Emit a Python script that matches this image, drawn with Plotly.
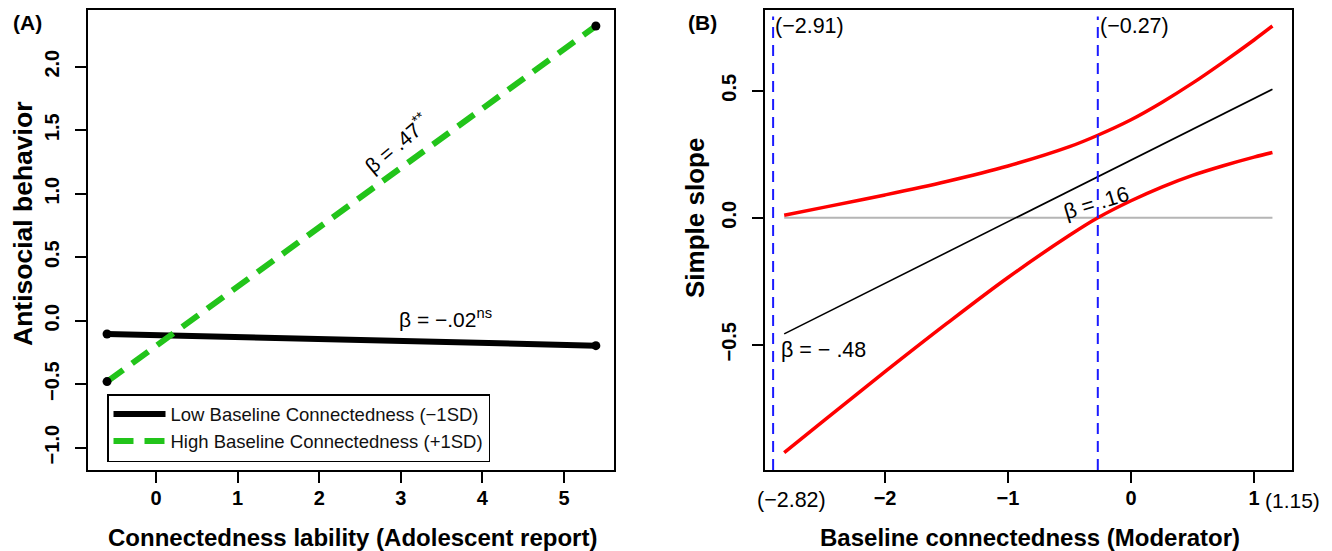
import plotly.graph_objects as go

# ---------------- data ----------------
# Panel A: simple slopes of antisocial behavior on connectedness lability
lability_x = [-0.60, 5.39]
low_conn_y = [-0.105, -0.197]
high_conn_y = [-0.48, 2.32]
low_name = "Low Baseline Connectedness (\u22121SD)"
high_name = "High Baseline Connectedness (+1SD)"

# Panel B: simple slope as function of moderator with confidence bands
mod_x = [-2.82, -2.5, -2.0, -1.5, -1.0, -0.5, -0.27, 0.0, 0.25, 0.5, 0.75, 1.0, 1.15]
ci_upper = [0.010, 0.041, 0.090, 0.143, 0.204, 0.280, 0.325, 0.386, 0.454, 0.530, 0.613, 0.700, 0.755]
ci_lower = [-0.925, -0.800, -0.606, -0.417, -0.235, -0.069, 0.000, 0.067, 0.121, 0.167, 0.205, 0.239, 0.257]
slope_x = [-2.82, 1.15]
slope_y = [-0.457, 0.506]
jn_points = [-2.91, -0.27]

a_xticks = [0, 1, 2, 3, 4, 5]
a_yticks = [-1.0, -0.5, 0.0, 0.5, 1.0, 1.5, 2.0]
a_yticklabels = ["\u22121.0", "\u22120.5", "0.0", "0.5", "1.0", "1.5", "2.0"]
b_xticks = [-2, -1, 0, 1]
b_xticklabels = ["\u22122", "\u22121", "0", "1"]
b_yticks = [-0.5, 0.0, 0.5]
b_yticklabels = ["\u22120.5", "0.0", "0.5"]

FONT = "Liberation Sans, Arial, Helvetica, sans-serif"
WIN_W, WIN_H = 1332, 551
OFF = 8  # default page body margin
W, H = WIN_W - OFF, WIN_H - OFF
GREEN = "#22c41a"


def px(x):
    return (x - OFF) / W


def py(y):
    return 1 - (y - OFF) / H


fig = go.Figure()

# Panel A
fig.add_trace(go.Scatter(x=lability_x, y=low_conn_y, mode="lines", name=low_name,
                         line=dict(color="black", width=6),
                         xaxis="x", yaxis="y"))
fig.add_trace(go.Scatter(x=lability_x, y=high_conn_y, mode="lines", name=high_name,
                         line=dict(color=GREEN, width=6, dash="20px,11px"),
                         xaxis="x", yaxis="y"))
fig.add_trace(go.Scatter(x=lability_x, y=low_conn_y, mode="markers", showlegend=False,
                         marker=dict(color="black", size=9), xaxis="x", yaxis="y"))
fig.add_trace(go.Scatter(x=lability_x, y=high_conn_y, mode="markers", showlegend=False,
                         marker=dict(color="black", size=9), xaxis="x", yaxis="y"))

# Panel B
fig.add_trace(go.Scatter(x=[mod_x[0], mod_x[-1]], y=[0, 0], mode="lines", showlegend=False,
                         line=dict(color="#b5b5b5", width=2), xaxis="x2", yaxis="y2"))
fig.add_trace(go.Scatter(x=slope_x, y=slope_y, mode="lines", showlegend=False,
                         line=dict(color="black", width=1.6), xaxis="x2", yaxis="y2"))
fig.add_trace(go.Scatter(x=mod_x, y=ci_upper, mode="lines", showlegend=False,
                         line=dict(color="#ff0000", width=3.5, shape="spline"), xaxis="x2", yaxis="y2"))
fig.add_trace(go.Scatter(x=mod_x, y=ci_lower, mode="lines", showlegend=False,
                         line=dict(color="#ff0000", width=3.5, shape="spline"), xaxis="x2", yaxis="y2"))

shapes = []
for jx in jn_points:
    shapes.append(dict(type="line", xref="x2", yref="y2 domain", x0=jx, x1=jx, y0=0, y1=0.985,
                       line=dict(color="#1a1aff", width=2, dash="11px,7px")))

axis_common = dict(showline=True, mirror=True, linecolor="black", linewidth=2,
                   ticks="outside", ticklen=11, tickwidth=2, tickcolor="black",
                   showgrid=False, zeroline=False, automargin=False,
                   tickfont=dict(family=FONT, size=20, color="black", weight="bold"))

xdomA = [px(87.7), px(614.3)]
xdomB = [px(765), px(1292)]
ydom = [py(470), py(9.5)]

fig.update_layout(
    template="none",
    width=W, height=H, autosize=False,
    margin=dict(l=0, r=0, t=0, b=0, pad=0),
    plot_bgcolor="white", paper_bgcolor="white",
    font=dict(family=FONT, color="black"),
    xaxis=dict(domain=xdomA, range=[-0.837, 5.616], tickvals=a_xticks, anchor="y",
               ticklabelstandoff=-2, **axis_common),
    yaxis=dict(domain=ydom, range=[-1.176, 2.45], tickvals=a_yticks, ticktext=a_yticklabels,
               tickangle=-90, anchor="x", ticklabelstandoff=8, **axis_common),
    xaxis2=dict(domain=xdomB, range=[-2.976, 1.309], tickvals=b_xticks, ticktext=b_xticklabels,
                anchor="y2", ticklabelstandoff=-2, **axis_common),
    yaxis2=dict(domain=ydom, range=[-0.993, 0.82], tickvals=b_yticks, ticktext=b_yticklabels,
                tickangle=-90, anchor="x2", ticklabelstandoff=8, **axis_common),
    legend=dict(x=px(107), y=py(394), xanchor="left", yanchor="top",
                bordercolor="black", borderwidth=1.5, bgcolor="white", itemwidth=52,
                font=dict(family=FONT, size=18.5, color="#111111"), tracegroupgap=0),
    shapes=shapes,
    showlegend=True,
)

ann = []


def paper_text(text, x, y, size, angle=0, weight="normal", xanchor="center"):
    ann.append(dict(text=text, x=px(x), y=py(y), xref="paper", yref="paper",
                    showarrow=False, textangle=angle, xanchor=xanchor, yanchor="middle",
                    font=dict(family=FONT, size=size, color="black", weight=weight)))


# axis titles and panel labels
paper_text("Connectedness lability (Adolescent report)", 352.5, 537, 24, weight="bold")
paper_text("Baseline connectedness (Moderator)", 1030, 537, 24, weight="bold")
paper_text("Antisocial behavior", 23, 224, 26.5, angle=-90, weight="bold")
paper_text("Simple slope", 695, 218, 26, angle=-90, weight="bold")
paper_text("(A)", 27, 22, 21, weight="bold")
paper_text("(B)", 702, 22, 21, weight="bold")
# extra x labels panel B
paper_text("(\u22122.82)", 792, 500, 21.5)
paper_text("(1.15)", 1263, 500, 21, xanchor="left")

# in-plot texts panel A
ann.append(dict(text="\u03b2 = .47<sup>**</sup>", x=2.95, y=1.40, xref="x", yref="y",
                showarrow=False, textangle=-40,
                font=dict(family=FONT, size=21, color="black")))
ann.append(dict(text="\u03b2 = \u2212.02<sup>ns</sup>", x=3.55, y=0.02, xref="x", yref="y",
                showarrow=False, font=dict(family=FONT, size=21, color="black")))
# in-plot texts panel B
ann.append(dict(text="(\u22122.91)", x=jn_points[0], y=0.755, xref="x2", yref="y2",
                showarrow=False, xanchor="left", xshift=0,
                font=dict(family=FONT, size=21.5, color="black")))
ann.append(dict(text="(\u22120.27)", x=jn_points[1], y=0.755, xref="x2", yref="y2",
                showarrow=False, xanchor="left", xshift=0,
                font=dict(family=FONT, size=21.5, color="black")))
ann.append(dict(text="\u03b2 = \u2212 .48", x=-2.50, y=-0.52, xref="x2", yref="y2",
                showarrow=False, font=dict(family=FONT, size=21.5, color="black")))
ann.append(dict(text="\u03b2 = .16", x=-0.28, y=0.058, xref="x2", yref="y2",
                showarrow=False, textangle=-17,
                font=dict(family=FONT, size=21.5, color="black")))

fig.update_layout(annotations=ann)
fig.write_html("out.html")
